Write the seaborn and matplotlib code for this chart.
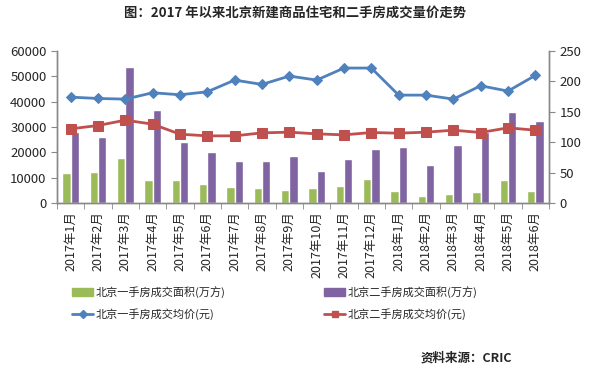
import matplotlib
matplotlib.use('Agg')
import matplotlib.pyplot as plt
from matplotlib.lines import Line2D
from matplotlib.patches import Patch
import numpy as np
import pandas as pd
import seaborn as sns

months = ['2017年1月', '2017年2月', '2017年3月', '2017年4月', '2017年5月', '2017年6月',
          '2017年7月', '2017年8月', '2017年9月', '2017年10月', '2017年11月', '2017年12月',
          '2018年1月', '2018年2月', '2018年3月', '2018年4月', '2018年5月', '2018年6月']
new_area = [50, 51.6, 74.7, 38.4, 38.4, 31.8, 26.9, 25.3, 22, 25.3, 28.5, 40,
            20.3, 12, 15.4, 18.7, 38.4, 20.3]
used_area = [117.5, 109, 223, 153.7, 101, 84.5, 69.7, 69.7, 78, 53, 73, 89.5,
             92.8, 63, 96, 116, 150, 135.6]
new_price = [41800, 41280, 41020, 43530, 42740, 43920, 48540, 46820, 50120, 48540, 53290, 53290,
             42600, 42600, 41020, 46300, 44190, 50390]
used_price = [29280, 30600, 32710, 31130, 27170, 26510, 26510, 27700, 27960, 27300, 26900, 27830,
              27570, 27960, 28750, 27830, 29680, 28750]

area_names = ['北京一手房成交面积(万方)', '北京二手房成交面积(万方)']
price_names = ['北京一手房成交均价(元)', '北京二手房成交均价(元)']
green, purple, blue, red = '#9BBB59', '#8064A2', '#4F81BD', '#C0504D'

sns.set_style('white')
plt.rcParams['font.family'] = ['Noto Sans CJK SC', 'DejaVu Sans']
plt.rcParams['axes.unicode_minus'] = False

area_df = pd.DataFrame({'month': months * 2,
                        'area': new_area + used_area,
                        'type': [area_names[0]] * len(months) + [area_names[1]] * len(months)})

fig = plt.figure(figsize=(5.9, 3.7), dpi=100)
ax = fig.add_axes([0.0966, 0.4514, 0.8339, 0.4106])

# bars go on the right-hand axis (area), lines on the left (price)
sns.barplot(data=area_df, x='month', y='area', hue='type', palette=[green, purple],
            width=0.6, saturation=1, ax=ax, legend=False)
ax.set_ylim(0, 250)
ax.set_yticks(np.arange(0, 251, 50))
ax.set_xlabel('')
ax.set_ylabel('')

ax2 = ax.twinx()
x = np.arange(len(months))
sns.lineplot(x=x, y=new_price, color=blue, marker='D', markersize=5, linewidth=2,
             markeredgecolor=blue, ax=ax2)
sns.lineplot(x=x, y=used_price, color=red, marker='s', markersize=6.5, linewidth=2,
             markeredgecolor=red, ax=ax2)
ax2.set_ylim(0, 60000)
ax2.set_yticks(np.arange(0, 60001, 10000))
ax2.set_xlim(-0.5, len(months) - 0.5)

# twinx resets the first axis to the left, so swap sides afterwards
ax.yaxis.tick_right()
ax2.yaxis.tick_left()

ax.set_xticks(x)
ax.set_xticklabels(months, rotation=90, va='top', fontsize=9)
ax.set_xticks(np.arange(-0.5, len(months)), minor=True)
ax.tick_params(axis='x', which='major', length=0, pad=6)
ax.tick_params(axis='x', which='minor', length=4, color='#888888', direction='out', bottom=True)
ax.tick_params(axis='y', length=4, color='#888888', direction='out', right=True, left=False,
               labelright=True, labelleft=False, labelsize=9.5)
ax2.tick_params(axis='y', length=4, color='#888888', direction='out', left=True, right=False,
                labelleft=True, labelright=False, labelsize=9.5)

for a in (ax, ax2):
    for side, sp in a.spines.items():
        sp.set_color('#888888')
        sp.set_linewidth(1)
    a.spines['top'].set_visible(False)

handles = [Patch(color=green), Line2D([], [], color=blue, marker='D', markersize=4, linewidth=2),
           Patch(color=purple), Line2D([], [], color=red, marker='s', markersize=5, linewidth=2)]
labels = [area_names[0], price_names[0], area_names[1], price_names[1]]
fig.legend(handles, labels, ncol=2, loc='upper left', bbox_to_anchor=(0.105, 0.254),
           frameon=False, fontsize=8, handlelength=1.9, handleheight=0.7, handletextpad=0.2,
           columnspacing=8.9, labelspacing=0.95)

fig.text(0.5, 0.965, '图：2017 年以来北京新建商品住宅和二手房成交量价走势', ha='center', va='center',
         fontsize=9.6, fontweight='bold')
fig.text(0.868, 0.032, '资料来源：CRIC', ha='right', va='center', fontsize=9, fontweight='bold')

fig.savefig('out.png', dpi=100)
